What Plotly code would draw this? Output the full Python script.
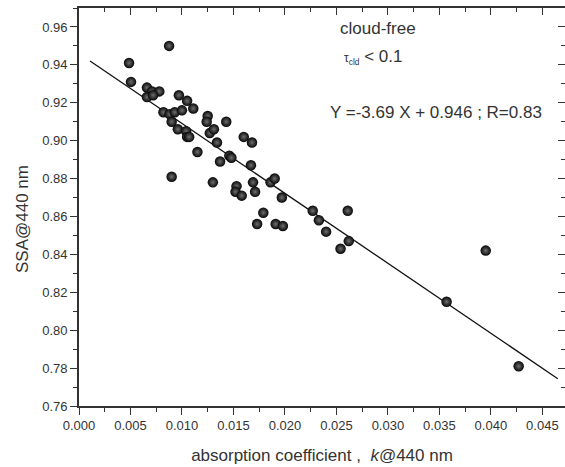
import plotly.graph_objects as go

# absorption coefficient k@440 nm
k440 = [0.00486, 0.00505, 0.00875, 0.0066, 0.0071, 0.0078, 0.0066, 0.0072,
        0.0097, 0.0105, 0.0111, 0.0082, 0.0088, 0.0093, 0.0100, 0.0090,
        0.0125, 0.0124, 0.0143, 0.0096, 0.0104, 0.0105, 0.0107, 0.0127,
        0.0131, 0.0134, 0.0115, 0.0146, 0.0148, 0.0137, 0.0090, 0.0130,
        0.0160, 0.0168, 0.0167, 0.0153, 0.0152, 0.0158, 0.0169, 0.0171,
        0.0186, 0.0190, 0.0197, 0.0179, 0.0173, 0.0191, 0.0198, 0.0227,
        0.0233, 0.0261, 0.0240, 0.0262, 0.0254, 0.0395, 0.0357, 0.0427]
# single scattering albedo SSA@440 nm
ssa440 = [0.941, 0.931, 0.950, 0.928, 0.926, 0.926, 0.923, 0.924,
          0.924, 0.921, 0.917, 0.915, 0.914, 0.915, 0.916, 0.910,
          0.913, 0.910, 0.910, 0.906, 0.905, 0.902, 0.902, 0.904,
          0.906, 0.899, 0.894, 0.892, 0.891, 0.889, 0.881, 0.878,
          0.902, 0.899, 0.887, 0.876, 0.873, 0.871, 0.878, 0.873,
          0.878, 0.880, 0.870, 0.862, 0.856, 0.856, 0.855, 0.863,
          0.858, 0.863, 0.852, 0.847, 0.843, 0.842, 0.815, 0.781]

# linear fit Y = a X + b
fit_slope = -3.69
fit_intercept = 0.946
fit_x = [0.00107, 0.0465]
fit_y = [fit_slope * x + fit_intercept for x in fit_x]

x_range = [0.0, 0.0472]
y_range = [0.76, 0.970]

axcol = "#333333"
txtcol = "#333333"
font = "Liberation Sans, Arial, sans-serif"

fig = go.Figure()
fig.add_trace(go.Scatter(x=fit_x, y=fit_y, mode="lines",
                         line=dict(color="#111111", width=1.3),
                         showlegend=False, hoverinfo="skip"))
fig.add_trace(go.Scatter(x=k440, y=ssa440, mode="markers",
                         marker=dict(size=10.5, color="#050505",
                                     gradient=dict(type="radial", color="#6e6e6e"),
                                     line=dict(width=0)),
                         showlegend=False))
# invisible trace for mirrored (top/right) axes
fig.add_trace(go.Scatter(x=[None], y=[None], xaxis="x2", yaxis="y2",
                         showlegend=False, hoverinfo="skip"))

common = dict(showgrid=False, zeroline=False, showline=True, linecolor=axcol,
              linewidth=1.6, tickcolor=axcol, tickwidth=1.2)

W, H = 565, 467
ML, MR, MT, MB = 79, 0, 8, 61

fig.update_layout(
    width=W, height=H,
    margin=dict(l=ML, r=MR, t=MT, b=MB),
    paper_bgcolor="white", plot_bgcolor="white",
    font=dict(family=font, color=txtcol, size=13),
    xaxis=dict(range=x_range, dtick=0.005, tick0=0, tickformat=".3f",
               ticks="outside", ticklen=7,
               minor=dict(dtick=0.0025, ticks="outside", ticklen=4, tickcolor=axcol),
               tickfont=dict(size=13, color=txtcol),
               title=dict(text="absorption coefficient ,  <i>k</i>@440 nm",
                          font=dict(size=17, color=txtcol), standoff=17),
               **common),
    yaxis=dict(range=y_range, dtick=0.02, tick0=0.76, tickformat=".2f",
               ticks="outside", ticklen=7,
               minor=dict(dtick=0.01, ticks="outside", ticklen=4, tickcolor=axcol),
               tickfont=dict(size=13, color=txtcol),
               **common),
    xaxis2=dict(range=x_range, overlaying="x", side="top", dtick=0.005, tick0=0,
                ticks="inside", ticklen=7, showticklabels=False,
                minor=dict(dtick=0.0025, ticks="inside", ticklen=4, tickcolor=axcol),
                **common),
    yaxis2=dict(range=y_range, overlaying="y", side="right", dtick=0.02, tick0=0.76,
                ticks="inside", ticklen=7, showticklabels=False,
                minor=dict(dtick=0.01, ticks="inside", ticklen=4, tickcolor=axcol),
                **common),
)

pw = W - ML - MR
ph = H - MT - MB


def ann(text, px, py, size, angle=0):
    return dict(text=text, x=(px - ML) / pw, y=(H - py - MB) / ph,
                xref="paper", yref="paper", xanchor="center", yanchor="middle",
                textangle=angle, showarrow=False, font=dict(size=size, color=txtcol))


fig.update_layout(annotations=[
    ann("cloud-free", 378, 29, 17),
    ann("<span style='font-size:12px'>τ<sub>cld</sub></span> < 0.1", 373, 57, 17),
    ann("Y =-3.69 X + 0.946 ; R=0.83", 436, 113, 17),
    ann("SSA@440 nm", 22, 219, 17, -90),
])

fig.write_html("out.html")
